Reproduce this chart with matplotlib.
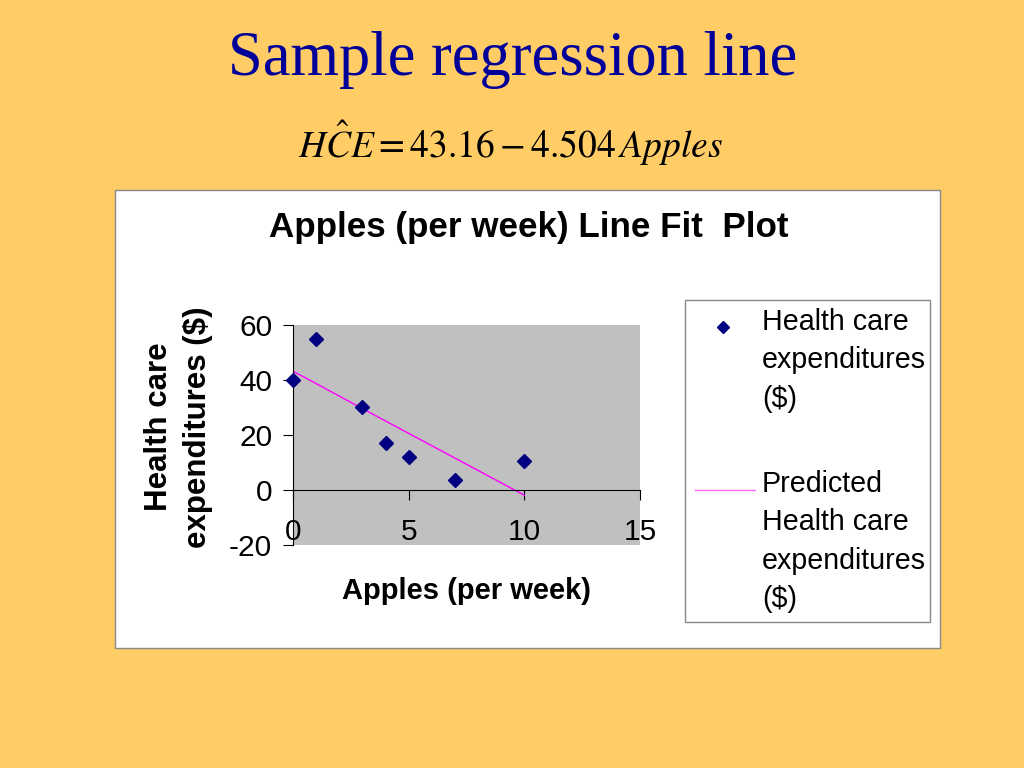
import matplotlib
matplotlib.use("Agg")
import matplotlib.pyplot as plt
from matplotlib.patches import Rectangle
from matplotlib.lines import Line2D

# Data
apples = [0, 1, 3, 4, 5, 7, 10]
hce = [40, 55, 30, 17, 12, 3.5, 10.5]
predicted = [43.2, 38.7, 29.6, 25.1, 20.6, 11.6, -1.9]
x_ticks = [0, 5, 10, 15]
y_ticks = [-20, 0, 20, 40, 60]
series_labels = ["Health care\nexpenditures\n($)",
                 "Predicted\nHealth care\nexpenditures\n($)"]

SANS = "Liberation Sans"
SERIF = "Liberation Serif"
MARKER_COLOR = "#000080"
LINE_COLOR = "#FF00FF"

fig = plt.figure(figsize=(10.24, 7.68), dpi=100)
fig.patch.set_facecolor("#FFCC66")


def fx(px):
    return px / 1024


def fy(py):
    return 1 - py / 768


# Slide title & equation
fig.text(0.5008, fy(60), "Sample regression line", family=SERIF,
         fontsize=45, color="#000099", ha="center", va="center")
plt.rcParams["mathtext.fontset"] = "stix"
fig.text(0.4985, fy(143), r"$H\hat{C}E = 43.16 - 4.504\,Apples$",
         fontsize=27, color="black", ha="center", va="center")

# White chart box
fig.patches.append(Rectangle((fx(115), fy(648)), fx(825), 458 / 768,
                             transform=fig.transFigure, facecolor="white",
                             edgecolor="#888888", lw=1, zorder=-2))
# Legend box
fig.patches.append(Rectangle((fx(685), fy(622)), fx(245), 322 / 768,
                             transform=fig.transFigure, facecolor="white",
                             edgecolor="#888888", lw=1, zorder=-1))

fig.text(fx(529), fy(228), "Apples (per week) Line Fit  Plot", family=SANS,
         fontsize=25.2, fontweight="bold", ha="center", va="center")

ax = fig.add_axes([fx(293), fy(545), fx(347), 220 / 768])
ax.set_facecolor("#C0C0C0")
ax.set_xlim(0, 15)
ax.set_ylim(-20, 60)

ax.plot(apples, hce, linestyle="none", marker="D", markersize=7,
        color=MARKER_COLOR, label=series_labels[0], zorder=3, clip_on=False)
ax.plot(apples, predicted, color=LINE_COLOR, lw=1,
        label=series_labels[1], zorder=2)

for s in ["top", "right"]:
    ax.spines[s].set_visible(False)
ax.spines["bottom"].set_position(("data", 0))
for s in ["left", "bottom"]:
    ax.spines[s].set_color("black")
    ax.spines[s].set_linewidth(0.8)

ax.set_xticks(x_ticks)
ax.set_yticks(y_ticks)
ax.set_xticklabels([str(v) for v in x_ticks], family=SANS, fontsize=21.5)
ax.set_yticklabels([str(v) for v in y_ticks], family=SANS, fontsize=21.5)
ax.tick_params(axis="x", direction="out", length=7, width=0.8, pad=13)
ax.tick_params(axis="y", direction="out", length=7, width=0.8, pad=8)

ax.set_xlabel("Apples (per week)", family=SANS, fontsize=21, fontweight="bold")
ax.xaxis.set_label_coords(0.501, -0.21)
ax.xaxis.label.set_verticalalignment("center")
ax.set_ylabel("Health care\nexpenditures ($)", family=SANS, fontsize=22.5,
              fontweight="bold", linespacing=1.4)
ax.yaxis.set_label_coords(-0.33, 0.537)
ax.yaxis.label.set_verticalalignment("center")

# Legend (Excel style: handle aligned with first label line)
fig.add_artist(Line2D([fx(723)], [fy(327)], marker="D", markersize=6.5,
                      color=MARKER_COLOR, linestyle="none",
                      transform=fig.transFigure))
fig.add_artist(Line2D([fx(695), fx(755)], [fy(490), fy(490)], lw=1,
                      color=LINE_COLOR, alpha=0.6, transform=fig.transFigure))
fig.text(fx(762), fy(308), series_labels[0], family=SANS, fontsize=20.6,
         ha="left", va="top", linespacing=1.47)
fig.text(fx(762), fy(470), series_labels[1], family=SANS, fontsize=20.6,
         ha="left", va="top", linespacing=1.47)

fig.savefig("out.png", dpi=100, facecolor=fig.get_facecolor())
